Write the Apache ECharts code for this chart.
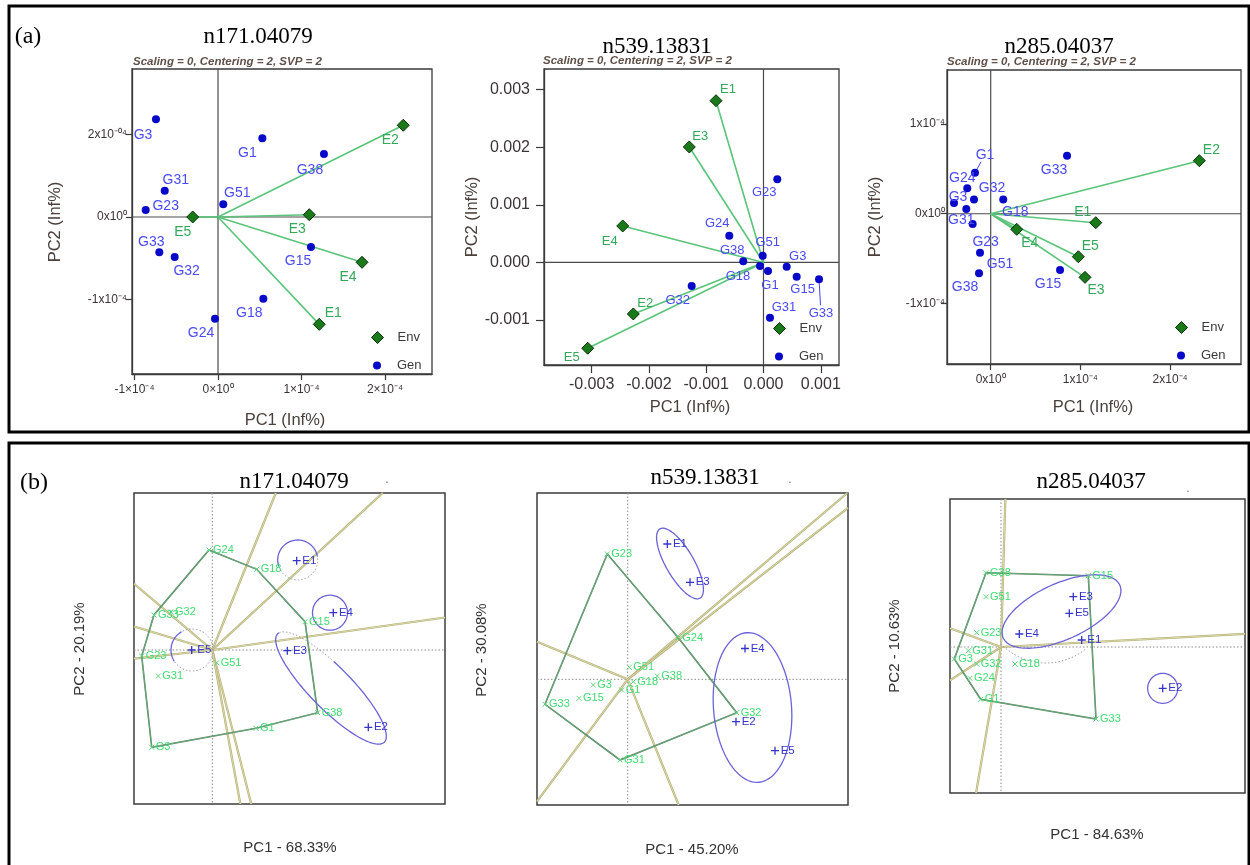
<!DOCTYPE html>
<html><head><meta charset="utf-8">
<script src="https://cdn.jsdelivr.net/npm/echarts@6/dist/echarts.min.js"></script>
<style>html,body{margin:0;padding:0;background:#fff}#c{width:1250px;height:865px}</style>
</head><body><div id="c"></div><script>
// ---------------- DATA ----------------
const genNames = ['G1','G3','G15','G18','G23','G24','G31','G32','G33','G38','G51'];
const envNames = ['E1','E2','E3','E4','E5'];

// (a) n171.04079
const a1GenX = [0.531e-4, -0.743e-4, 1.114e-4, 0.543e-4, -0.866e-4, -0.036e-4, -0.638e-4, -0.519e-4, -0.703e-4, 1.269e-4, 0.063e-4];
const a1GenY = [0.954e-4, 1.184e-4, -0.364e-4, -0.990e-4, 0.085e-4, -1.233e-4, 0.319e-4, -0.485e-4, -0.428e-4, 0.764e-4, 0.154e-4];
const a1EnvX = [1.213e-4, 2.219e-4, 1.093e-4, 1.725e-4, -0.303e-4];
const a1EnvY = [-1.301e-4, 1.112e-4, 0.028e-4, -0.549e-4, 0.000];
const a1XTicks = [-1e-4, 0, 1e-4, 2e-4];
const a1XTickLabels = ['-1×10⁻⁴', '0×10⁰', '1×10⁻⁴', '2×10⁻⁴'];
const a1YTicks = [-1e-4, 0, 1e-4];
const a1YTickLabels = ['-1x10⁻⁴', '0x10⁰', '2x10⁻⁰⁴'];

// (a) n539.13831
const a2GenX = [0.079e-3, 0.405e-3, 0.579e-3, -0.061e-3, 0.241e-3, -0.597e-3, 0.113e-3, -1.253e-3, 0.969e-3, -0.353e-3, -0.014e-3];
const a2GenY = [-0.148e-3, -0.073e-3, -0.247e-3, -0.061e-3, 1.444e-3, 0.465e-3, -0.958e-3, -0.408e-3, -0.292e-3, 0.021e-3, 0.118e-3];
const a2EnvX = [-0.829e-3, -2.272e-3, -1.295e-3, -2.457e-3, -3.068e-3];
const a2EnvY = [2.809e-3, -0.894e-3, 2.005e-3, 0.634e-3, -1.490e-3];
const a2XTicks = [-0.003, -0.002, -0.001, 0, 0.001];
const a2XTickLabels = ['-0.003', '-0.002', '-0.001', '0.000', '0.001'];
const a2YTicks = [-0.001, 0, 0.001, 0.002, 0.003];
const a2YTickLabels = ['-0.001', '0.000', '0.001', '0.002', '0.003'];

// (a) n285.04037
const a3GenX = [-0.175e-4, -0.409e-4, 0.773e-4, 0.140e-4, -0.201e-4, -0.261e-4, -0.272e-4, -0.186e-4, 0.851e-4, -0.130e-4, -0.119e-4];
const a3GenY = [0.458e-4, 0.119e-4, -0.628e-4, 0.158e-4, -0.115e-4, 0.283e-4, 0.052e-4, 0.158e-4, 0.647e-4, -0.665e-4, -0.435e-4];
const a3EnvX = [1.171e-4, 2.326e-4, 1.051e-4, 0.290e-4, 0.977e-4];
const a3EnvY = [-0.100e-4, 0.592e-4, -0.710e-4, -0.174e-4, -0.480e-4];
const a3XTicks = [0, 1e-4, 2e-4];
const a3XTickLabels = ['0x10⁰', '1x10⁻⁴', '2x10⁻⁴'];
const a3YTicks = [-1e-4, 0, 1e-4];
const a3YTickLabels = ['-1x10⁻⁴', '0x10⁰', '1x10⁻⁴'];

// (b) n171.04079  (PC1 - 68.33%, PC2 - 20.19%)
const b1GenX = [0.437, -0.606, 0.927, 0.444, -0.706, -0.033, -0.540, -0.413, -0.583, 1.054, 0.044];
const b1GenY = [-0.783, -0.973, 0.283, 0.807, -0.060, 1.000, -0.260, 0.380, 0.350, -0.627, -0.127];
const b1EnvX = [0.844, 1.560, 0.750, 1.210, -0.206];
const b1EnvY = [0.893, -0.773, -0.007, 0.373, 0.000];
const b1Hull = ['G24','G18','G15','G38','G1','G3','G23','G33'];
const b1EllX = [0.854, 1.177, -0.203, 1.187];
const b1EllY = [0.900, 0.373, 0.000, -0.380];
const b1EllA = [0.20, 0.175, 0.21, 0.76];
const b1EllB = [0.20, 0.175, 0.21, 0.21];
const b1EllAng = [0, 0, 0, -45.5];

// (b) n539.13831  (PC1 - 45.20%, PC2 - 30.08%)
const b2GenX = [-0.060, -0.344, -0.487, 0.056, -0.204, 0.506, -0.077, 1.090, -0.827, 0.296, 0.016];
const b2GenY = [-0.107, -0.057, -0.190, -0.024, 1.253, 0.416, -0.807, -0.334, -0.250, 0.033, 0.120];
const b2EnvX = [0.396, 1.083, 0.623, 1.173, 1.473];
const b2EnvY = [1.353, -0.424, 0.970, 0.308, -0.714];
const b2Hull = ['G23','G24','G32','G31','G33'];
const b2EllX = [0.523, 1.248];
const b2EllY = [1.158, -0.282];
const b2EllA = [0.40, 0.75];
const b2EllB = [0.14, 0.39];
const b2EllAng = [-59.9, -85.4];

// (b) n285.04037  (PC1 - 84.63%, PC2 - 10.63%)
const b3GenX = [-0.203, -0.467, 0.873, 0.140, -0.243, -0.310, -0.327, -0.243, 0.950, -0.150, -0.150];
const b3GenY = [-0.523, -0.120, 0.713, -0.170, 0.143, -0.313, -0.037, -0.170, -0.720, 0.743, 0.503];
const b3EnvX = [0.807, 1.617, 0.723, 0.183, 0.683];
const b3EnvY = [0.070, -0.413, 0.503, 0.130, 0.337];
const b3Hull = ['G38','G15','G33','G1','G3'];
const b3EllX = [0.605, 1.617];
const b3EllY = [0.355, -0.413];
const b3EllA = [0.64, 0.15];
const b3EllB = [0.28, 0.15];
const b3EllAng = [24.4, 0];

// ---------------- STYLE / LAYOUT ----------------
const SANS = '"Liberation Sans", Arial, sans-serif';
const SERIF = '"Liberation Serif", "Times New Roman", serif';
const SUB = 'Scaling = 0, Centering = 2, SVP = 2';

const a1Off = {G1:[-15,15],G3:[-13,16],G15:[-13,14],G18:[-14,14],G23:[20,-4],G24:[-14,14],G31:[11,-11],G32:[12,14],G33:[-8,-10],G38:[-14,16],G51:[14,-11],
  E1:[14,-11],E2:[-13,15],E3:[-12,14],E4:[-14,15],E5:[-10,15]};
const a2Off = {G1:[2,14],G3:[11,-10],G15:[6,13],G18:[-22,10],G23:[-13,13],G24:[-12,-12],G31:[14,-10],G32:[-14,14],G33:[2,34],G38:[-11,-11],G51:[5,-13],
  E1:[12,-11],E2:[12,-11],E3:[11,-11],E4:[-13,15],E5:[-16,9]};
const a3Off = {G1:[10,-18],G3:[4,-6],G15:[-12,14],G18:[12,13],G23:[13,18],G24:[-5,-10],G31:[-5,11],G32:[18,-11],G33:[-13,14],G38:[-14,14],G51:[20,11],
  E1:[-13,-11],E2:[12,-11],E3:[11,13],E4:[13,14],E5:[12,-11]};

const chart = echarts.init(document.getElementById('c'), null, {renderer: 'canvas'});
const grids = [], xAxes = [], yAxes = [], series = [], legends = [], graphics = [];

function lookupLabel(ticks, labels) {
  const step = Math.abs(ticks[1] - ticks[0]);
  return v => { for (let k = 0; k < ticks.length; k++) { if (Math.abs(ticks[k] - v) < step * 1e-6) return labels[k]; } return ''; };
}

function addText(x, y, text, opt) {
  graphics.push(Object.assign({type: 'text', x: x, y: y, silent: true,
    style: Object.assign({text: text, align: 'center', verticalAlign: 'middle', fill: '#000'}, opt.style)}, opt.el || {}));
}

function addTopPanel(c) {
  const gi = grids.length;
  grids.push({left: c.box[0], top: c.box[1], width: c.box[2] - c.box[0], height: c.box[3] - c.box[1],
    show: true, borderColor: '#3a3a3a', borderWidth: 1.3, backgroundColor: 'rgba(0,0,0,0)'});
  const axTxt = {color: '#3b3434', fontSize: c.tickFont, fontFamily: SANS};
  xAxes.push({gridIndex: gi, type: 'value', min: c.xr[0], max: c.xr[1],
    axisLine: {show: true, onZero: false, lineStyle: {color: '#3a3a3a', width: 1.3}},
    axisTick: {show: true, customValues: c.xTicks, length: c.tickLen, lineStyle: {color: '#3a3a3a', width: 1.2}},
    axisLabel: Object.assign({show: true, customValues: c.xTicks, formatter: lookupLabel(c.xTicks, c.xLabels), margin: c.xMargin}, axTxt),
    splitLine: {show: false}});
  yAxes.push({gridIndex: gi, type: 'value', min: c.yr[0], max: c.yr[1],
    axisLine: {show: true, onZero: false, lineStyle: {color: '#3a3a3a', width: 1.3}},
    axisTick: {show: true, customValues: c.yTicks, length: c.tickLen, lineStyle: {color: '#3a3a3a', width: 1.2}},
    axisLabel: Object.assign({show: true, customValues: c.yTicks, formatter: lookupLabel(c.yTicks, c.yLabels), margin: c.yMargin}, axTxt),
    splitLine: {show: false}});
  // zero lines
  series.push({type: 'custom', xAxisIndex: gi, yAxisIndex: gi, silent: true, z: 1, data: [[0, 0]],
    renderItem: (p, api) => {
      const cs = p.coordSys, o = api.coord([0, 0]);
      const st = {stroke: '#4a4a4a', lineWidth: 1.2};
      return {type: 'group', children: [
        {type: 'line', shape: {x1: o[0], y1: cs.y, x2: o[0], y2: cs.y + cs.height}, style: st},
        {type: 'line', shape: {x1: cs.x, y1: o[1], x2: cs.x + cs.width, y2: o[1]}, style: st}]};
    }});
  // env vectors
  series.push({type: 'custom', xAxisIndex: gi, yAxisIndex: gi, silent: true, z: 2,
    data: c.envX.map((x, k) => [x, c.envY[k]]),
    renderItem: (p, api) => {
      const o = api.coord([0, 0]), e = api.coord([api.value(0), api.value(1)]);
      return {type: 'line', shape: {x1: o[0], y1: o[1], x2: e[0], y2: e[1]}, style: {stroke: '#5ac47a', lineWidth: 1.6}};
    }});
  // leaders
  if (c.leaders) {
    series.push({type: 'custom', xAxisIndex: gi, yAxisIndex: gi, silent: true, z: 3,
      data: c.leaders.map(n => { const k = genNames.indexOf(n); return [c.genX[k], c.genY[k], c.off[n][0], c.off[n][1]]; }),
      renderItem: (p, api) => {
        const q = api.coord([api.value(0), api.value(1)]), dx = api.value(2), dy = api.value(3);
        const L = Math.sqrt(dx * dx + dy * dy);
        return {type: 'line', shape: {x1: q[0], y1: q[1], x2: q[0] + dx - dx / L * 8, y2: q[1] + dy - dy / L * 8},
          style: {stroke: '#4646f0', lineWidth: 1}};
      }});
  }
  const lbl = {show: true, position: 'inside', formatter: '{b}', fontSize: c.lblFont, fontFamily: SANS};
  series.push({type: 'scatter', name: 'Gen', xAxisIndex: gi, yAxisIndex: gi, z: 5, symbol: 'circle', symbolSize: 8,
    itemStyle: {color: '#0808c8', borderWidth: 0, opacity: 1},
    label: Object.assign({color: '#4a4af2'}, lbl),
    emphasis: {disabled: true},
    data: genNames.map((n, k) => ({name: n, value: [c.genX[k], c.genY[k]], label: {offset: c.off[n]}}))});
  series.push({type: 'scatter', name: 'Env', xAxisIndex: gi, yAxisIndex: gi, z: 6, symbol: 'diamond', symbolSize: [12, 12],
    itemStyle: {color: '#1a7a1a', borderColor: '#0b2e0b', borderWidth: 1, opacity: 1},
    label: Object.assign({color: '#34a85a'}, lbl),
    emphasis: {disabled: true},
    data: envNames.map((n, k) => ({name: n, value: [c.envX[k], c.envY[k]], label: {offset: c.off[n]}}))});
  const lgTxt = {fontSize: 13, color: '#3a3a3a', fontFamily: SANS};
  legends.push({left: c.legend[0] - 6, top: c.legend[1] - 6, padding: 0, orient: 'vertical', itemWidth: 12, itemHeight: 12,
    selectedMode: false, data: [{name: 'Env', icon: 'diamond'}],
    itemStyle: {color: '#1a7a1a', borderColor: '#0b2e0b', borderWidth: 1, opacity: 1},
    textStyle: Object.assign({padding: [0, 0, 0, 9]}, lgTxt)});
  legends.push({left: c.legend[0] - 4, top: c.legend[1] + 26 - 4, padding: 0, orient: 'vertical', itemWidth: 8, itemHeight: 8,
    selectedMode: false, data: [{name: 'Gen', icon: 'circle'}],
    itemStyle: {color: '#0808c8', borderWidth: 0, opacity: 1},
    textStyle: Object.assign({padding: [0, 0, 0, 11]}, lgTxt)});
  addText(c.title[0], c.title[1], c.titleText, {style: {fontSize: 23, fontFamily: SERIF}});
  addText(c.sub[0], c.sub[1], SUB, {style: {fontSize: 11.5, fontStyle: 'italic', fontWeight: 'bold', fontFamily: SANS, fill: '#5e5048', align: 'left'}});
  addText(c.yName[0], c.yName[1], 'PC2 (Inf%)', {style: {fontSize: 16.5, fontFamily: SANS, fill: '#4a403c'}, el: {rotation: Math.PI / 2}});
  addText(c.xName[0], c.xName[1], 'PC1 (Inf%)', {style: {fontSize: 16.5, fontFamily: SANS, fill: '#4a403c'}});
}

function addBottomPanel(c) {
  const gi = grids.length;
  grids.push({left: c.box[0], top: c.box[1], width: c.box[2] - c.box[0], height: c.box[3] - c.box[1],
    show: true, borderColor: '#3d3d3d', borderWidth: 1.5, backgroundColor: 'rgba(0,0,0,0)'});
  xAxes.push({gridIndex: gi, type: 'value', min: c.xr[0], max: c.xr[1], show: false, splitLine: {show: false}});
  yAxes.push({gridIndex: gi, type: 'value', min: c.yr[0], max: c.yr[1], show: false, splitLine: {show: false}});
  const xr = c.xr, yr = c.yr;
  // dotted axes
  series.push({type: 'custom', xAxisIndex: gi, yAxisIndex: gi, silent: true, z: 1, data: [[0, 0]],
    renderItem: (p, api) => {
      const cs = p.coordSys, o = api.coord([0, 0]);
      const st = {stroke: '#8a8a8a', lineWidth: 1, lineDash: [1.5, 2]};
      return {type: 'group', children: [
        {type: 'line', shape: {x1: o[0], y1: cs.y, x2: o[0], y2: cs.y + cs.height}, style: st},
        {type: 'line', shape: {x1: cs.x, y1: o[1], x2: cs.x + cs.width, y2: o[1]}, style: st}]};
    }});
  const gx = n => c.genX[genNames.indexOf(n)], gy = n => c.genY[genNames.indexOf(n)];
  // rays perpendicular to hull edges
  const edges = c.hull.map((n, k) => { const m = c.hull[(k + 1) % c.hull.length]; return [gx(n), gy(n), gx(m), gy(m)]; });
  series.push({type: 'custom', xAxisIndex: gi, yAxisIndex: gi, silent: true, z: 2, data: edges,
    renderItem: (p, api) => {
      const ax = api.value(0), ay = api.value(1), bx = api.value(2), by = api.value(3);
      const dx = bx - ax, dy = by - ay, t = -(ax * dx + ay * dy) / (dx * dx + dy * dy);
      let fx = ax + t * dx, fy = ay + t * dy; const L = Math.sqrt(fx * fx + fy * fy); fx /= L; fy /= L;
      let s = 1e9;
      if (fx > 1e-9) s = Math.min(s, xr[1] / fx); else if (fx < -1e-9) s = Math.min(s, xr[0] / fx);
      if (fy > 1e-9) s = Math.min(s, yr[1] / fy); else if (fy < -1e-9) s = Math.min(s, yr[0] / fy);
      const o = api.coord([0, 0]), e = api.coord([fx * s, fy * s]);
      return {type: 'group', children: [
        {type: 'line', shape: {x1: o[0], y1: o[1], x2: e[0], y2: e[1]}, style: {stroke: '#b3b077', lineWidth: 2.2}},
        {type: 'line', shape: {x1: o[0], y1: o[1], x2: e[0], y2: e[1]}, style: {stroke: '#e4e2b4', lineWidth: 0.8}}]};
    }});
  // hull polygon
  series.push({type: 'custom', xAxisIndex: gi, yAxisIndex: gi, silent: true, z: 3, data: [[0, 0]],
    renderItem: (p, api) => {
      const pts = c.hull.map(n => api.coord([gx(n), gy(n)]));
      return {type: 'group', children: [
        {type: 'polygon', shape: {points: pts}, style: {fill: 'none', stroke: '#4b7f5a', lineWidth: 1.6}},
        {type: 'polygon', shape: {points: pts}, style: {fill: 'none', stroke: '#8fcf9a', lineWidth: 0.5}}]};
    }});
  // ellipses
  series.push({type: 'custom', xAxisIndex: gi, yAxisIndex: gi, silent: true, z: 4,
    data: c.ellX.map((x, k) => [x, c.ellY[k], c.ellA[k], c.ellB[k], c.ellAng[k], c.solid[k][0], c.solid[k][1]]),
    renderItem: (p, api) => {
      const cx = api.value(0), cy = api.value(1), a = api.value(2), b = api.value(3), ang = api.value(4) * Math.PI / 180;
      const s0 = api.value(5), s1 = api.value(6);
      const pt = t => { const r = t * Math.PI / 180, ex = a * Math.cos(r), ey = b * Math.sin(r);
        return api.coord([cx + ex * Math.cos(ang) - ey * Math.sin(ang), cy + ex * Math.sin(ang) + ey * Math.cos(ang)]); };
      const solid = [], dotted = [];
      for (let t = s0; t <= s1 + 0.01; t += 3) solid.push(pt(t));
      for (let t = s1; t <= s0 + 360 + 0.01; t += 3) dotted.push(pt(t));
      const ch = [{type: 'polyline', shape: {points: solid}, style: {fill: 'none', stroke: '#6a63d6', lineWidth: 1.3}}];
      if (s1 - s0 < 359) ch.push({type: 'polyline', shape: {points: dotted}, style: {fill: 'none', stroke: '#9a9ab0', lineWidth: 1, lineDash: [1.5, 2]}});
      return {type: 'group', children: ch};
    }});
  if (c.arcs) {
    series.push({type: 'custom', xAxisIndex: gi, yAxisIndex: gi, silent: true, z: 4, data: c.arcs,
      renderItem: (p, api) => {
        const cx = api.value(0), cy = api.value(1), r = api.value(2), t0 = api.value(3), t1 = api.value(4);
        const pts = [];
        for (let t = t0; t <= t1 + 0.01; t += 3) pts.push(api.coord([cx + r * Math.cos(t * Math.PI / 180), cy + r * Math.sin(t * Math.PI / 180)]));
        return {type: 'polyline', shape: {points: pts}, style: {fill: 'none', stroke: '#9a9ab0', lineWidth: 1, lineDash: [1.5, 2]}};
      }});
  }
  series.push({type: 'scatter', name: 'gen' + gi, xAxisIndex: gi, yAxisIndex: gi, z: 5,
    symbol: 'path://M0 0L10 10M10 0L0 10', symbolSize: 5,
    itemStyle: {color: 'transparent', borderColor: '#5fd47e', borderWidth: 1, opacity: 1},
    label: {show: true, position: 'right', distance: 1, formatter: '{b}', color: '#3fdc72', fontSize: 11, fontFamily: SANS},
    emphasis: {disabled: true},
    data: genNames.map((n, k) => ({name: n, value: [c.genX[k], c.genY[k]]}))});
  series.push({type: 'scatter', name: 'env' + gi, xAxisIndex: gi, yAxisIndex: gi, z: 6,
    symbol: 'path://M5 0L5 10M0 5L10 5', symbolSize: 8,
    itemStyle: {color: 'transparent', borderColor: '#3434c8', borderWidth: 1.3, opacity: 1},
    label: {show: true, position: 'right', distance: 1, formatter: '{b}', color: '#3434c8', fontSize: 11.5, fontFamily: SANS},
    emphasis: {disabled: true},
    data: envNames.map((n, k) => ({name: n, value: [c.envX[k], c.envY[k]]}))});
  addText(c.title[0], c.title[1], c.titleText, {style: {fontSize: 23, fontFamily: SERIF}});
  addText(c.yName[0], c.yName[1], c.yNameText, {style: {fontSize: 15, fontFamily: SANS, fill: '#333'}, el: {rotation: Math.PI / 2}});
  addText(c.xName[0], c.xName[1], c.xNameText, {style: {fontSize: 15, fontFamily: SANS, fill: '#333'}});
  if (c.dot) addText(c.dot[0], c.dot[1], '.', {style: {fontSize: 12, fontFamily: SANS, fill: '#777'}});
}

// outer frames
graphics.push({type: 'rect', silent: true, shape: {x: 9, y: 6, width: 1240, height: 426}, style: {fill: 'none', stroke: '#000', lineWidth: 3}});
graphics.push({type: 'rect', silent: true, shape: {x: 9, y: 443, width: 1240, height: 430}, style: {fill: 'none', stroke: '#000', lineWidth: 3}});
addText(28, 37, '(a)', {style: {fontSize: 24, fontFamily: SERIF}});
addText(34, 483, '(b)', {style: {fontSize: 24, fontFamily: SERIF}});

addTopPanel({box: [132, 69, 432, 374], xr: [-1.030e-4, 2.563e-4], yr: [-1.903e-4, 1.794e-4],
  xTicks: a1XTicks, xLabels: a1XTickLabels, yTicks: a1YTicks, yLabels: a1YTickLabels,
  tickFont: 12, tickLen: 6, xMargin: 10, yMargin: 5, lblFont: 14,
  genX: a1GenX, genY: a1GenY, envX: a1EnvX, envY: a1EnvY, off: a1Off,
  legend: [377, 337], title: [258, 37], titleText: 'n171.04079', sub: [133, 62],
  yName: [55, 222], xName: [285, 420]});
addTopPanel({box: [544, 69, 839, 365], xr: [-3.831e-3, 1.318e-3], yr: [-1.780e-3, 3.359e-3],
  xTicks: a2XTicks, xLabels: a2XTickLabels, yTicks: a2YTicks, yLabels: a2YTickLabels,
  tickFont: 16, tickLen: 8, xMargin: 12, yMargin: 14, lblFont: 13,
  genX: a2GenX, genY: a2GenY, envX: a2EnvX, envY: a2EnvY, off: a2Off, leaders: ['G33'],
  legend: [779, 328], title: [657, 47], titleText: 'n539.13831', sub: [543, 61],
  yName: [472, 217], xName: [690, 407]});
addTopPanel({box: [947, 70, 1241, 364], xr: [-0.487e-4, 2.790e-4], yr: [-1.677e-4, 1.604e-4],
  xTicks: a3XTicks, xLabels: a3XTickLabels, yTicks: a3YTicks, yLabels: a3YTickLabels,
  tickFont: 12, tickLen: 6, xMargin: 10, yMargin: 2, lblFont: 14,
  genX: a3GenX, genY: a3GenY, envX: a3EnvX, envY: a3EnvY, off: a3Off, leaders: ['G1'],
  legend: [1181, 327], title: [1059, 47], titleText: 'n285.04037', sub: [947, 62],
  yName: [875, 217], xName: [1093, 407]});

addBottomPanel({box: [134, 493, 445, 804], xr: [-0.783, 2.327], yr: [-1.540, 1.570],
  genX: b1GenX, genY: b1GenY, envX: b1EnvX, envY: b1EnvY, hull: b1Hull,
  ellX: b1EllX, ellY: b1EllY, ellA: b1EllA, ellB: b1EllB, ellAng: b1EllAng,
  solid: [[10, 200], [0, 360], [120, 215], [175, 465]],
  title: [294, 482], titleText: 'n171.04079', dot: [387, 480],
  yName: [80, 649], yNameText: 'PC2 - 20.19%', xName: [290, 848], xNameText: 'PC1 - 68.33%'});
addBottomPanel({box: [537, 493, 848, 805], xr: [-0.907, 2.203], yr: [-1.257, 1.863],
  genX: b2GenX, genY: b2GenY, envX: b2EnvX, envY: b2EnvY, hull: b2Hull,
  ellX: b2EllX, ellY: b2EllY, ellA: b2EllA, ellB: b2EllB, ellAng: b2EllAng,
  solid: [[0, 360], [0, 360]],
  title: [705, 478], titleText: 'n539.13831', dot: [790, 480],
  yName: [482, 650], yNameText: 'PC2 - 30.08%', xName: [692, 850], xNameText: 'PC1 - 45.20%'});
addBottomPanel({box: [950, 499, 1245, 793], xr: [-0.510, 2.440], yr: [-1.460, 1.480],
  genX: b3GenX, genY: b3GenY, envX: b3EnvX, envY: b3EnvY, hull: b3Hull,
  ellX: b3EllX, ellY: b3EllY, ellA: b3EllA, ellB: b3EllB, ellAng: b3EllAng,
  solid: [[0, 360], [0, 360]], arcs: [[0.45, 0.47, 0.63, 224, 310]],
  title: [1091, 482], titleText: 'n285.04037', dot: [1188, 489],
  yName: [895, 646], yNameText: 'PC2 - 10.63%', xName: [1097, 835], xNameText: 'PC1 - 84.63%'});

chart.setOption({
  animation: false,
  backgroundColor: '#fff',
  grid: grids, xAxis: xAxes, yAxis: yAxes, series: series, legend: legends,
  graphic: {elements: graphics}
});
</script></body></html>
